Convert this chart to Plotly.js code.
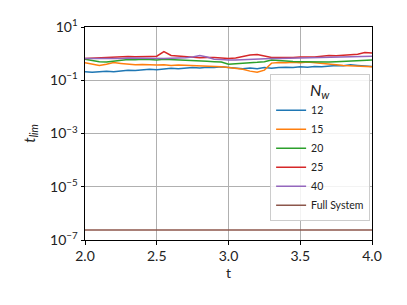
<!DOCTYPE html>
<html><head><meta charset="utf-8">
<script src="https://cdn.plot.ly/plotly-3.0.1.min.js"></script>
<style>html,body{margin:0;padding:0;background:#fff}#plot{width:407px;height:305px}</style>
</head><body><div id="plot"></div>
<script>
const t = [2.00,2.05,2.10,2.15,2.20,2.25,2.30,2.35,2.40,2.45,2.50,2.55,2.60,2.65,2.70,2.75,2.80,2.85,2.90,2.95,3.00,3.05,3.10,3.15,3.20,3.25,3.30,3.35,3.40,3.45,3.50,3.55,3.60,3.65,3.70,3.75,3.80,3.85,3.90,3.95,4.00];
const n12 = [0.21,0.20,0.21,0.22,0.21,0.23,0.24,0.23,0.25,0.26,0.25,0.27,0.28,0.27,0.29,0.30,0.29,0.31,0.30,0.32,0.30,0.28,0.27,0.29,0.27,0.30,0.28,0.30,0.31,0.30,0.32,0.31,0.33,0.32,0.34,0.36,0.35,0.38,0.36,0.34,0.33];
const n15 = [0.45,0.40,0.36,0.40,0.46,0.43,0.40,0.38,0.39,0.37,0.37,0.38,0.36,0.37,0.36,0.35,0.34,0.35,0.33,0.32,0.30,0.28,0.26,0.22,0.20,0.24,0.44,0.46,0.45,0.47,0.45,0.48,0.46,0.43,0.40,0.38,0.36,0.35,0.33,0.34,0.32];
const n20 = [0.62,0.55,0.50,0.48,0.52,0.57,0.60,0.59,0.62,0.60,0.58,0.61,0.60,0.58,0.57,0.56,0.55,0.52,0.50,0.48,0.40,0.41,0.42,0.44,0.47,0.50,0.57,0.55,0.52,0.51,0.50,0.49,0.50,0.48,0.48,0.50,0.52,0.54,0.55,0.57,0.58];
const n25 = [0.66,0.68,0.70,0.74,0.76,0.78,0.78,0.76,0.75,0.78,0.80,1.20,0.85,0.80,0.75,0.72,0.70,0.71,0.72,0.68,0.65,0.68,0.80,0.88,0.92,0.80,0.72,0.71,0.70,0.72,0.74,0.73,0.75,0.80,0.85,0.84,0.88,0.92,0.95,1.10,1.05];
const n40 = [0.66,0.65,0.64,0.63,0.62,0.65,0.68,0.67,0.66,0.65,0.65,0.66,0.67,0.68,0.70,0.75,0.85,0.75,0.62,0.60,0.57,0.58,0.60,0.61,0.62,0.64,0.66,0.66,0.67,0.68,0.68,0.70,0.71,0.72,0.72,0.73,0.74,0.76,0.78,0.79,0.80];
const full = [2.4e-7,2.4e-7,2.4e-7,2.4e-7,2.4e-7,2.4e-7,2.4e-7,2.4e-7,2.4e-7,2.4e-7,2.4e-7,2.4e-7,2.4e-7,2.4e-7,2.4e-7,2.4e-7,2.4e-7,2.4e-7,2.4e-7,2.4e-7,2.4e-7,2.4e-7,2.4e-7,2.4e-7,2.4e-7,2.4e-7,2.4e-7,2.4e-7,2.4e-7,2.4e-7,2.4e-7,2.4e-7,2.4e-7,2.4e-7,2.4e-7,2.4e-7,2.4e-7,2.4e-7,2.4e-7,2.4e-7,2.4e-7];
const names = ['12','15','20','25','40','Full System'];
const colors = ['#1f77b4','#ff7f0e','#2ca02c','#d62728','#9467bd','#8c564b'];
const ytickVals = [1e-7,1e-5,1e-3,1e-1,10];
const ytickText = ['10<sup>−7</sup>','10<sup>−5</sup>','10<sup>−3</sup>','10<sup>−1</sup>','10<sup>1</sup>'];
const xtickVals = [2.0,2.5,3.0,3.5,4.0];
const xtickText = ['2.0','2.5','3.0','3.5','4.0'];
const series = [n12,n15,n20,n25,n40,full];
const data = series.map((s,i)=>({x:t,y:s,type:'scatter',mode:'lines',name:names[i],line:{color:colors[i],width:1.5}}));
const F = 'Lato, "DejaVu Sans", sans-serif';
const layout = {
  width:407,height:305,
  margin:{l:85,r:35,t:27,b:65},
  paper_bgcolor:'#fff',plot_bgcolor:'#fff',
  font:{family:F,color:'#222',size:14},
  showlegend:true,
  legend:{x:0.645,y:0.78,xanchor:'left',yanchor:'top',bgcolor:'rgba(255,255,255,0.85)',bordercolor:'#cccccc',borderwidth:1,
    font:{size:10.5,family:F},itemwidth:30,tracegroupgap:0,
    title:{text:'<i>N<sub>w</sub></i>',font:{size:16,family:F},side:'top center'}},
  xaxis:{range:[2,4],tickvals:xtickVals,ticktext:xtickText,showgrid:true,gridcolor:'#b0b0b0',gridwidth:1,
    showline:true,linecolor:'#000',linewidth:1,mirror:true,ticks:'outside',ticklen:3.5,tickcolor:'#000',zeroline:false,
    tickfont:{size:14},title:{text:'t',font:{size:14},standoff:2}},
  yaxis:{type:'log',range:[-7,1],tickvals:ytickVals,ticktext:ytickText,showgrid:true,gridcolor:'#b0b0b0',gridwidth:1,
    showline:true,linecolor:'#000',linewidth:1,mirror:true,ticks:'outside',ticklen:3.5,tickcolor:'#000',zeroline:false,
    tickfont:{size:14},title:{text:'<i>t<sub>lim</sub></i>',font:{size:15},standoff:10}}
};
Plotly.newPlot('plot',data,layout,{staticPlot:true,displayModeBar:false});
</script></body></html>
